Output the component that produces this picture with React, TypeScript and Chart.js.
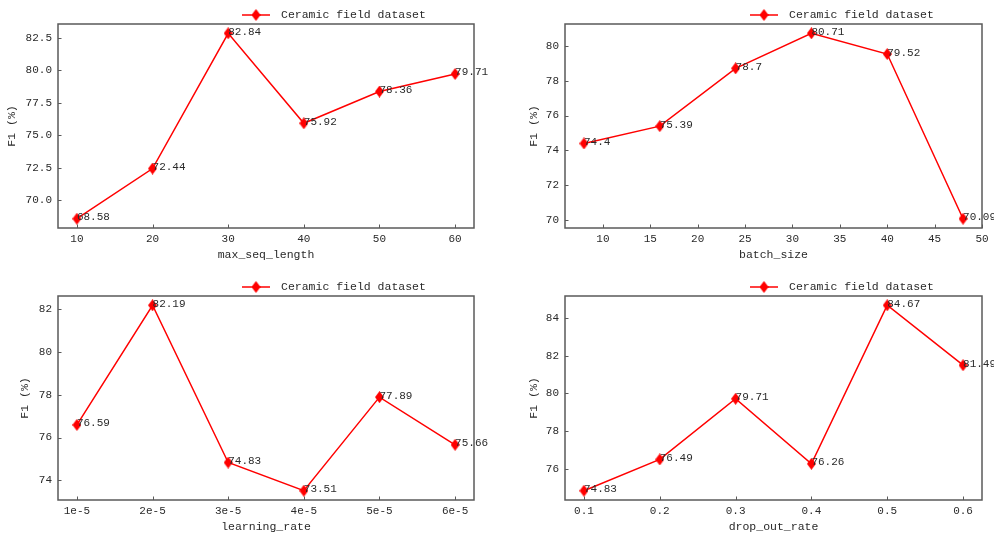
import React, { useEffect, useRef } from "react";
import { Chart, registerables } from "chart.js";

Chart.register(...registerables);

// ---------------- data ----------------
const legendLabel = "Ceramic field dataset";
const yAxisTitle = "F1 (%)";

const seqLengths = [10, 20, 30, 40, 50, 60];
const seqLengthF1 = [68.58, 72.44, 82.84, 75.92, 78.36, 79.71];
const seqTicksX = [10, 20, 30, 40, 50, 60];
const seqTickLabelsX = ["10", "20", "30", "40", "50", "60"];
const seqTicksY = [70, 72.5, 75, 77.5, 80, 82.5];
const seqTickLabelsY = ["70.0", "72.5", "75.0", "77.5", "80.0", "82.5"];

const batchSizes = [8, 16, 24, 32, 40, 48];
const batchSizeF1 = [74.4, 75.39, 78.7, 80.71, 79.52, 70.09];
const batchTicksX = [10, 15, 20, 25, 30, 35, 40, 45, 50];
const batchTickLabelsX = ["10", "15", "20", "25", "30", "35", "40", "45", "50"];
const batchTicksY = [70, 72, 74, 76, 78, 80];
const batchTickLabelsY = ["70", "72", "74", "76", "78", "80"];

const learningRates = ["1e-5", "2e-5", "3e-5", "4e-5", "5e-5", "6e-5"];
const learningRateF1 = [76.59, 82.19, 74.83, 73.51, 77.89, 75.66];
const lrTicksY = [74, 76, 78, 80, 82];
const lrTickLabelsY = ["74", "76", "78", "80", "82"];

const dropOutRates = [0.1, 0.2, 0.3, 0.4, 0.5, 0.6];
const dropOutF1 = [74.83, 76.49, 79.71, 76.26, 84.67, 81.49];
const dropTicksX = [0.1, 0.2, 0.3, 0.4, 0.5, 0.6];
const dropTickLabelsX = ["0.1", "0.2", "0.3", "0.4", "0.5", "0.6"];
const dropTicksY = [76, 78, 80, 82, 84];
const dropTickLabelsY = ["76", "78", "80", "82", "84"];

// ---------------- styling ----------------
const MONO = "'Liberation Mono', 'DejaVu Sans Mono', monospace";
const RED = "#ff0000";
const FRAME = "#5a5a5a";
const TEXT = "#2a2a2a";

type Panel = {
  pageLeft: number;
  pageTop: number;
  w: number;
  h: number;
  padLeft: number;
  plotLeft: number;
  plotTop: number;
  plotRight: number;
  plotBottom: number;
  xs: number[];
  ys: number[];
  xMin: number;
  xMax: number;
  xTicks: number[];
  xTickLabels: string[];
  yMin: number;
  yMax: number;
  yTicks: number[];
  yTickLabels: string[];
  xTitle: string;
};

const panels: Panel[] = [
  {
    pageLeft: 0, pageTop: 0, w: 497, h: 269, padLeft: 0,
    plotLeft: 58, plotTop: 24, plotRight: 474, plotBottom: 228,
    xs: seqLengths, ys: seqLengthF1,
    xMin: 7.5, xMax: 62.5, xTicks: seqTicksX, xTickLabels: seqTickLabelsX,
    yMin: 67.867, yMax: 83.553, yTicks: seqTicksY, yTickLabels: seqTickLabelsY,
    xTitle: "max_seq_length",
  },
  {
    pageLeft: 497, pageTop: 0, w: 497, h: 269, padLeft: 25,
    plotLeft: 68, plotTop: 24, plotRight: 485, plotBottom: 228,
    xs: batchSizes, ys: batchSizeF1,
    xMin: 6, xMax: 50, xTicks: batchTicksX, xTickLabels: batchTickLabelsX,
    yMin: 69.559, yMax: 81.241, yTicks: batchTicksY, yTickLabels: batchTickLabelsY,
    xTitle: "batch_size",
  },
  {
    pageLeft: 0, pageTop: 269, w: 497, h: 269, padLeft: 13,
    plotLeft: 58, plotTop: 27, plotRight: 474, plotBottom: 231,
    xs: learningRates.map((_, i) => i), ys: learningRateF1,
    xMin: -0.25, xMax: 5.25, xTicks: learningRates.map((_, i) => i), xTickLabels: learningRates,
    yMin: 73.076, yMax: 82.624, yTicks: lrTicksY, yTickLabels: lrTickLabelsY,
    xTitle: "learning_rate",
  },
  {
    pageLeft: 497, pageTop: 269, w: 497, h: 269, padLeft: 25,
    plotLeft: 68, plotTop: 27, plotRight: 485, plotBottom: 231,
    xs: dropOutRates, ys: dropOutF1,
    xMin: 0.075, xMax: 0.625, xTicks: dropTicksX, xTickLabels: dropTickLabelsX,
    yMin: 74.338, yMax: 85.162, yTicks: dropTicksY, yTickLabels: dropTickLabelsY,
    xTitle: "drop_out_rate",
  },
];

function makeDiamond(w: number, h: number, color: string): HTMLCanvasElement {
  const c = document.createElement("canvas");
  c.width = w;
  c.height = h;
  const ctx = c.getContext("2d")!;
  ctx.fillStyle = color;
  ctx.beginPath();
  ctx.moveTo(w / 2, 0);
  ctx.lineTo(w, h / 2);
  ctx.lineTo(w / 2, h);
  ctx.lineTo(0, h / 2);
  ctx.closePath();
  ctx.fill();
  return c;
}

function PanelChart({ p }: { p: Panel }) {
  const ref = useRef<HTMLCanvasElement | null>(null);

  useEffect(() => {
    if (!ref.current) return;
    const diamond = makeDiamond(9, 12, RED);
    const titleFont = { family: MONO, size: 11.5 };
    const tickFont = { family: MONO, size: 11 };

    const decor = {
      id: "decor" + p.xTitle,
      afterDatasetsDraw(chart: any) {
        const ctx = chart.ctx as CanvasRenderingContext2D;
        const a = chart.chartArea;
        const xs = chart.scales.x;
        const ys = chart.scales.y;
        ctx.save();
        // frame
        ctx.strokeStyle = FRAME;
        ctx.lineWidth = 1.5;
        ctx.strokeRect(a.left, a.top, a.right - a.left, a.bottom - a.top);
        // inward ticks
        ctx.lineWidth = 1;
        ctx.beginPath();
        for (const t of xs.ticks) {
          const px = Math.round(xs.getPixelForValue(t.value)) + 0.5;
          ctx.moveTo(px, a.bottom);
          ctx.lineTo(px, a.bottom - 3.5);
        }
        for (const t of ys.ticks) {
          const py = Math.round(ys.getPixelForValue(t.value)) + 0.5;
          ctx.moveTo(a.left, py);
          ctx.lineTo(a.left + 3.5, py);
        }
        ctx.stroke();
        // data labels
        const meta = chart.getDatasetMeta(0);
        ctx.fillStyle = TEXT;
        ctx.font = `11px ${MONO}`;
        ctx.textAlign = "left";
        ctx.textBaseline = "alphabetic";
        meta.data.forEach((el: any, i: number) => {
          ctx.fillText(String(p.ys[i]), el.x, el.y + 1.5);
        });
        // legend
        const ly = a.top - 9;
        const lx = a.right - 232;
        ctx.strokeStyle = RED;
        ctx.lineWidth = 1.5;
        ctx.beginPath();
        ctx.moveTo(lx, ly);
        ctx.lineTo(lx + 28, ly);
        ctx.stroke();
        ctx.drawImage(diamond, lx + 14 - 4.5, ly - 6);
        ctx.fillStyle = TEXT;
        ctx.font = `11.5px ${MONO}`;
        ctx.textBaseline = "middle";
        ctx.fillText(legendLabel, lx + 39, ly);
        ctx.restore();
      },
    };

    const chart = new Chart(ref.current, {
      type: "line",
      data: {
        datasets: [
          {
            label: legendLabel,
            data: p.xs.map((x, i) => ({ x, y: p.ys[i] })),
            borderColor: RED,
            backgroundColor: RED,
            borderWidth: 1.5,
            tension: 0,
            pointStyle: diamond as any,
            pointRadius: 6,
            pointHoverRadius: 6,
            clip: false as any,
          },
        ],
      },
      options: {
        responsive: false,
        animation: false,
        events: [],
        devicePixelRatio: 1,
        layout: {
          padding: { left: p.padLeft, top: p.plotTop, right: p.w - p.plotRight, bottom: 0 },
        },
        plugins: {
          legend: { display: false },
          tooltip: { enabled: false },
        },
        scales: {
          x: {
            type: "linear",
            min: p.xMin,
            max: p.xMax,
            grid: { display: false, drawTicks: false },
            border: { display: false },
            afterBuildTicks: (s: any) => {
              s.ticks = p.xTicks.map((v) => ({ value: v }));
            },
            afterFit: (s: any) => {
              s.height = p.h - p.plotBottom;
            },
            ticks: {
              autoSkip: false,
              maxRotation: 0,
              padding: 4,
              color: TEXT,
              font: tickFont,
              callback: (_v: any, i: number) => p.xTickLabels[i],
            },
            title: {
              display: true,
              text: p.xTitle,
              color: TEXT,
              font: titleFont,
              padding: { top: 0, bottom: p.h - (p.plotBottom + 27) - 6.9 },
            },
          },
          y: {
            type: "linear",
            min: p.yMin,
            max: p.yMax,
            grid: { display: false, drawTicks: false },
            border: { display: false },
            afterBuildTicks: (s: any) => {
              s.ticks = p.yTicks.map((v) => ({ value: v }));
            },
            afterFit: (s: any) => {
              s.width = p.plotLeft - p.padLeft;
            },
            ticks: {
              padding: 6,
              color: TEXT,
              font: tickFont,
              callback: (_v: any, i: number) => p.yTickLabels[i],
            },
            title: {
              display: true,
              text: yAxisTitle,
              color: TEXT,
              font: titleFont,
              padding: { top: 5, bottom: 0 },
            },
          },
        },
      },
      plugins: [decor],
    } as any);

    return () => chart.destroy();
  }, [p]);

  return (
    <canvas
      ref={ref}
      width={p.w}
      height={p.h}
      style={{
        position: "absolute",
        left: p.pageLeft,
        top: p.pageTop,
        width: p.w,
        height: p.h,
      }}
    />
  );
}

export default function App() {
  return (
    <div
      style={{
        position: "fixed",
        left: 0,
        top: 0,
        width: 994,
        height: 538,
        background: "#ffffff",
        overflow: "hidden",
      }}
    >
      {panels.map((p, i) => (
        <PanelChart key={i} p={p} />
      ))}
    </div>
  );
}
